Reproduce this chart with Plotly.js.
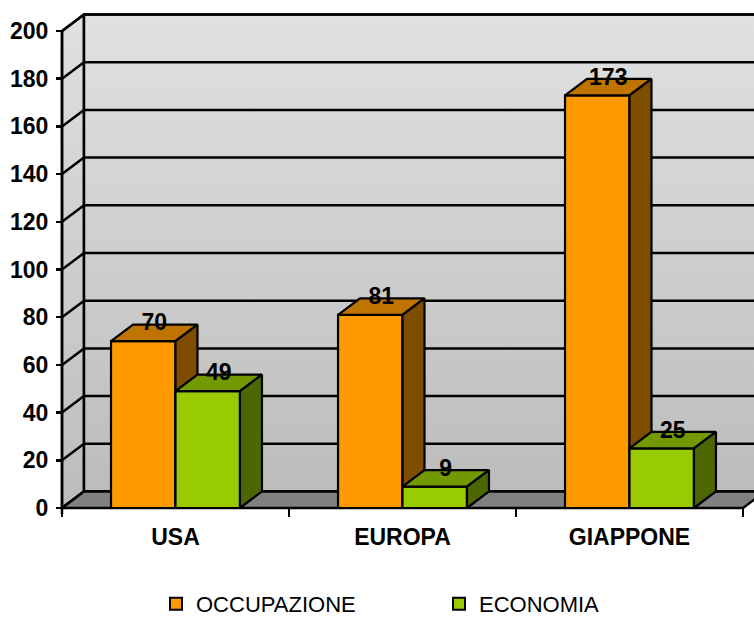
<!DOCTYPE html>
<html>
<head>
<meta charset="utf-8">
<script src="https://cdn.plot.ly/plotly-3.0.1.min.js"></script>
<style>html,body{margin:0;padding:0;background:#fff;}#chart{width:754px;height:618px;}</style>
</head>
<body>
<div id="chart"></div>
<script>
// ---- data ----
const categories = ['USA', 'EUROPA', 'GIAPPONE'];
const occupazione = [70, 81, 173];
const economia = [49, 9, 25];
const seriesNames = ['OCCUPAZIONE', 'ECONOMIA'];
const yTickVals = [0, 20, 40, 60, 80, 100, 120, 140, 160, 180, 200];

// ---- geometry / style ----
const W = 754, H = 618;
const M = {l: 56, r: 0, t: 8, b: 104, autoexpand: false};
const plotW = W - M.l - M.r, plotH = H - M.t - M.b;
const pxPerCat = 227;            // px per category
const pxPerUnit = 477 / 200;     // px per value unit
const frontLeftPx = 6;           // front y-axis inside plot area (px from left)
const floorPx = 6;               // value 0 above bottom of plot area (px)
const depthPxX = 22, depthPxY = 16.5;
const DX = depthPxX / pxPerCat, DY = depthPxY / pxPerUnit;
const xMin = -0.5 - frontLeftPx / pxPerCat;
const xMax = xMin + plotW / pxPerCat;
const yMin = -floorPx / pxPerUnit;
const yMax = yMin + plotH / pxPerUnit;
const BW = 0.284;                // bar width in category units
const FONT = 'Liberation Sans, Arial, sans-serif';
const LW = 2.5;

const colors = {
  occ: {front: '#FF9900', top: '#C07400', side: '#7F4D00'},
  eco: {front: '#99CC00', top: '#739900', side: '#4C6600'}
};

const traces = [];
const xL = -0.5, xR = categories.length - 0.5;
const yTop = yTickVals[yTickVals.length - 1];

// left side wall
traces.push({
  type: 'scatter', mode: 'lines', fill: 'toself', hoverinfo: 'skip', showlegend: false,
  x: [xL, xL + DX, xL + DX, xL, xL], y: [0, DY, yTop + DY, yTop, 0],
  line: {color: 'black', width: LW},
  fillcolor: '#d0d0d0',
  fillgradient: {type: 'vertical', colorscale: [[0, '#bcbcbc'], [1, '#e0e0e0']]}
});
// back wall
traces.push({
  type: 'scatter', mode: 'lines', fill: 'toself', hoverinfo: 'skip', showlegend: false,
  x: [xL + DX, xMax + 1, xMax + 1, xL + DX, xL + DX], y: [DY, DY, yTop + DY, yTop + DY, DY],
  line: {color: 'black', width: LW},
  fillcolor: '#d0d0d0',
  fillgradient: {type: 'vertical', colorscale: [[0, '#bcbcbc'], [1, '#e1e1e1']]}
});
// gridlines on back wall + diagonals on side wall
const gx = [], gy = [];
yTickVals.forEach(v => {
  gx.push(xL, xL + DX, xMax + 1, null);
  gy.push(v, v + DY, v + DY, null);
});
traces.push({type: 'scatter', mode: 'lines', x: gx, y: gy, hoverinfo: 'skip', showlegend: false,
  line: {color: 'black', width: LW}});
// floor
traces.push({
  type: 'scatter', mode: 'lines', fill: 'toself', hoverinfo: 'skip', showlegend: false,
  x: [xL, xR, xR + DX, xMax + 1, xL + DX, xL], y: [0, 0, DY, DY, DY, 0],
  line: {color: 'black', width: LW}, fillcolor: '#808080'
});
// front y axis line
traces.push({type: 'scatter', mode: 'lines', x: [xL, xL], y: [yMin, yTop], hoverinfo: 'skip', showlegend: false,
  line: {color: 'black', width: LW}});

function faces(vals, offset) {
  const f = {x: [], y: []}, t = {x: [], y: []}, s = {x: [], y: []};
  vals.forEach((v, i) => {
    const x0 = i + offset, x1 = x0 + BW;
    f.x.push(x0, x1, x1, x0, x0, null); f.y.push(0, 0, v, v, 0, null);
    t.x.push(x0, x1, x1 + DX, x0 + DX, x0, null); t.y.push(v, v, v + DY, v + DY, v, null);
    s.x.push(x1, x1 + DX, x1 + DX, x1, x1, null); s.y.push(0, DY, v + DY, v, 0, null);
  });
  return [f, t, s];
}
function addBars(vals, offset, c) {
  const [f, t, s] = faces(vals, offset);
  [[f, c.front], [t, c.top], [s, c.side]].forEach(([p, col]) => {
    traces.push({type: 'scatter', mode: 'lines', fill: 'toself', x: p.x, y: p.y,
      fillcolor: col, line: {color: 'black', width: 2.2}, hoverinfo: 'skip', showlegend: false});
  });
}
addBars(occupazione, -BW, colors.occ);
addBars(economia, 0, colors.eco);

// value labels
function labels(vals, offset) {
  traces.push({type: 'scatter', mode: 'text',
    x: vals.map((v, i) => i + offset + BW / 2 + DX / 2),
    y: vals.map(v => v + DY),
    text: vals.map(String), textposition: 'middle center', cliponaxis: false,
    textfont: {family: FONT, size: 23, color: 'black', weight: 'bold'},
    hoverinfo: 'skip', showlegend: false});
}
labels(occupazione, -BW);
labels(economia, 0);

// legend entries (one legend box per series)
traces.push({type: 'bar', x: [null], y: [null], name: seriesNames[0], legend: 'legend',
  marker: {color: colors.occ.front, line: {color: 'black', width: 2}}});
traces.push({type: 'bar', x: [null], y: [null], name: seriesNames[1], legend: 'legend2',
  marker: {color: colors.eco.front, line: {color: 'black', width: 2}}});

const legendBase = {orientation: 'h', xanchor: 'left', yanchor: 'middle',
  y: (H - M.b - 604) / plotH, itemwidth: 30,
  font: {family: FONT, size: 22, color: 'black'}, bgcolor: 'rgba(0,0,0,0)'};

const layout = {
  width: W, height: H,
  margin: M,
  paper_bgcolor: 'white', plot_bgcolor: 'white',
  showlegend: true,
  legend: Object.assign({}, legendBase, {x: (156 - M.l) / plotW}),
  legend2: Object.assign({}, legendBase, {x: (439 - M.l) / plotW}),
  xaxis: {
    range: [xMin, xMax], anchor: 'free', position: floorPx / plotH,
    tickmode: 'array', tickvals: categories.map((c, i) => i), ticktext: categories,
    ticks: '', showgrid: false, zeroline: false, showline: false,
    tickfont: {family: FONT, size: 23, color: 'black', weight: 'bold'},
    ticklabelstandoff: 13,
    minor: {tickmode: 'array', tickvals: categories.map((c, i) => i - 0.5).concat([xR]),
      ticks: 'outside', ticklen: 8, tickwidth: LW, tickcolor: 'black', showgrid: false}
  },
  yaxis: {
    range: [yMin, yMax], anchor: 'free', position: frontLeftPx / plotW,
    tickmode: 'array', tickvals: yTickVals,
    ticks: 'outside', ticklen: 6, tickwidth: LW, tickcolor: 'black',
    showgrid: false, zeroline: false, showline: false,
    tickfont: {family: FONT, size: 23, color: 'black', weight: 'bold'},
    ticklabelstandoff: 3
  }
};

Plotly.newPlot('chart', traces, layout, {displayModeBar: false, staticPlot: true});
</script>
</body>
</html>
